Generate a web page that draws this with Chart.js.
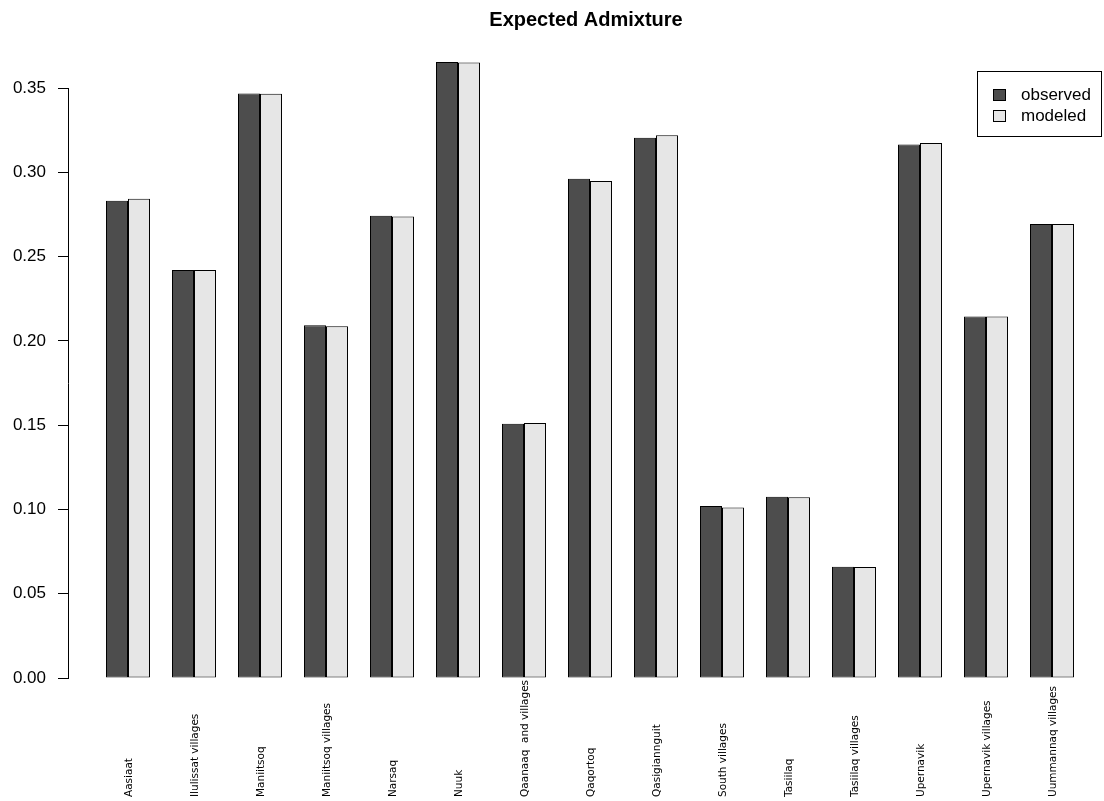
<!DOCTYPE html>
<html><head><meta charset="utf-8">
<script src="https://cdn.jsdelivr.net/npm/chart.js@4"></script>
<style>html,body{margin:0;padding:0;background:#fff}#wrap{width:1104px;height:801px}</style>
</head><body><div id="wrap"><canvas id="c" width="1104" height="801"></canvas></div>
<script>
const categories = ["Aasiaat","Ilulissat villages","Maniitsoq","Maniitsoq villages","Narsaq","Nuuk","Qaanaaq  and villages","Qaqortoq","Qasigiannguit","South villages","Tasiilaq","Tasiilaq villages","Upernavik","Upernavik villages","Uummannaq villages"];
const observed = [0.2831, 0.2420, 0.3468, 0.2092, 0.2742, 0.3654, 0.1508, 0.2961, 0.3205, 0.1020, 0.1075, 0.0660, 0.3165, 0.2145, 0.2693];
const modeled  = [0.2843, 0.2420, 0.3466, 0.2086, 0.2738, 0.3652, 0.1512, 0.2948, 0.3219, 0.1012, 0.1072, 0.0658, 0.3173, 0.2145, 0.2693];
const yTicks = [0, 0.05, 0.10, 0.15, 0.20, 0.25, 0.30, 0.35];
const seriesNames = ["observed", "modeled"];
const seriesColors = ["#4D4D4D", "#E6E6E6"];
const titleText = "Expected Admixture";

const seriesValues = [observed, modeled];

const xLabelPlugin = {
  id: 'xLabels',
  afterDraw(chart) {
    const ctx = chart.ctx, xs = chart.scales.x, area = chart.chartArea;
    ctx.save();
    ctx.font = '10.5px "DejaVu Sans"';
    ctx.fillStyle = '#000';
    ctx.textAlign = 'left';
    ctx.textBaseline = 'middle';
    categories.forEach((c, i) => {
      const x = xs.getPixelForValue(i);
      ctx.save();
      ctx.translate(x + 1, area.bottom + 119);
      ctx.rotate(-Math.PI / 2);
      ctx.fillText(c, 0, 0);
      ctx.restore();
    });
    ctx.restore();
  }
};

const legendPlugin = {
  id: 'boxLegend',
  afterDraw(chart) {
    const ctx = chart.ctx, area = chart.chartArea;
    const w = 124, h = 65;
    const right = area.right - 3, top = area.top - 17;
    const left = right - w;
    ctx.save();
    ctx.fillStyle = '#fff';
    ctx.fillRect(left, top, w, h);
    ctx.strokeStyle = '#000';
    ctx.lineWidth = 1;
    ctx.strokeRect(Math.round(left) + 0.5, Math.round(top) + 0.5, w, h);
    ctx.font = '17px "Liberation Sans"';
    ctx.textAlign = 'left';
    ctx.textBaseline = 'middle';
    chart.data.datasets.forEach((ds, k) => {
      const cy = top + 23 + k * 21;
      ctx.fillStyle = ds.backgroundColor;
      ctx.fillRect(Math.round(left) + 16, Math.round(cy - 5), 12, 11);
      ctx.strokeRect(Math.round(left) + 16.5, Math.round(cy - 5) + 0.5, 12, 11);
      ctx.fillStyle = '#000';
      ctx.fillText(ds.label, left + 44, cy + 1);
    });
    ctx.restore();
  }
};

new Chart(document.getElementById('c'), {
  type: 'bar',
  data: {
    datasets: seriesNames.map((name, k) => ({
      label: name,
      data: categories.map((c, i) => ({ x: i, y: seriesValues[k][i] })),
      backgroundColor: seriesColors[k],
      borderColor: '#000',
      borderWidth: 1,
      borderSkipped: false,
      categoryPercentage: 2 / 3,
      barPercentage: 1,
      clip: false
    }))
  },
  options: {
    responsive: false,
    animation: false,
    devicePixelRatio: 1,
    layout: { padding: { left: 0, right: 0, top: 0, bottom: 123 } },
    plugins: {
      legend: { display: false },
      tooltip: { enabled: false },
      title: {
        display: true, text: titleText, fullSize: false, color: '#000',
        font: { family: 'Liberation Sans', size: 20, weight: 'bold' },
        padding: { top: 8, bottom: 56 }
      }
    },
    scales: {
      x: {
        type: 'linear', display: false, offset: false, min: -0.909, max: 14.788,
        grid: { offset: false },
        afterBuildTicks: s => { s.ticks = categories.map((_, i) => ({ value: i })); }
      },
      y: {
        min: 0, max: 0.35,
        afterBuildTicks: s => { s.ticks = yTicks.map(v => ({ value: v })); },
        afterFit: s => { s.width = 68; },
        grid: { display: true, drawOnChartArea: false, drawTicks: true, tickLength: 10, color: '#000', lineWidth: 1 },
        border: { display: true, color: '#000', width: 1 },
        ticks: {
          padding: 12, color: '#000',
          font: { family: 'Liberation Sans', size: 17 },
          callback: v => Number(v).toFixed(2)
        }
      }
    }
  },
  plugins: [xLabelPlugin, legendPlugin]
});
</script>
</body></html>
